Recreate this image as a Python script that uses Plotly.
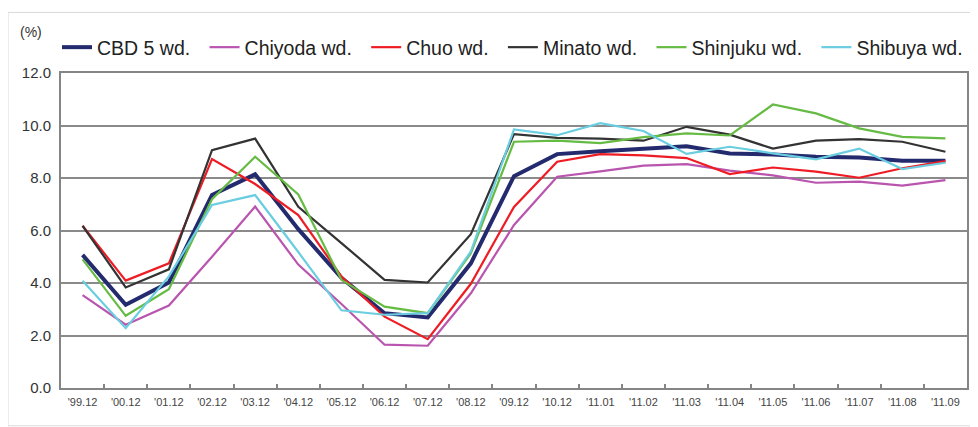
import plotly.graph_objects as go

categories = ["'99.12", "'00.12", "'01.12", "'02.12", "'03.12", "'04.12", "'05.12",
              "'06.12", "'07.12", "'08.12", "'09.12", "'10.12", "'11.01", "'11.02",
              "'11.03", "'11.04", "'11.05", "'11.06", "'11.07", "'11.08", "'11.09"]

cbd5 = [5.07, 3.17, 4.02, 7.35, 8.14, 6.05, 4.20, 2.85, 2.69, 4.75, 8.07, 8.91, 9.02,
        9.12, 9.21, 8.93, 8.90, 8.81, 8.78, 8.66, 8.66]
chiyoda = [3.54, 2.41, 3.14, 5.00, 6.91, 4.70, 3.20, 1.65, 1.61, 3.61, 6.21, 8.05, 8.25,
           8.47, 8.53, 8.28, 8.10, 7.82, 7.86, 7.71, 7.92]
chuo = [6.18, 4.09, 4.75, 8.72, 7.77, 6.59, 4.25, 2.72, 1.86, 3.97, 6.90, 8.62, 8.91,
        8.86, 8.76, 8.15, 8.40, 8.24, 8.01, 8.37, 8.64]
minato = [6.18, 3.83, 4.52, 9.06, 9.50, 6.90, 5.52, 4.12, 4.02, 5.86, 9.67, 9.53, 9.50,
          9.42, 9.95, 9.65, 9.12, 9.42, 9.48, 9.38, 9.00]
shinjuku = [4.90, 2.75, 3.76, 7.19, 8.81, 7.37, 4.12, 3.10, 2.85, 5.13, 9.38, 9.42, 9.33,
            9.56, 9.70, 9.62, 10.80, 10.46, 9.89, 9.57, 9.51]
shibuya = [4.09, 2.28, 4.25, 6.97, 7.35, 5.18, 2.96, 2.79, 2.85, 5.20, 9.85, 9.63, 10.09,
           9.79, 8.92, 9.19, 8.94, 8.71, 9.12, 8.34, 8.58]

series_names = ["CBD 5 wd.", "Chiyoda wd.", "Chuo wd.", "Minato wd.", "Shinjuku wd.", "Shibuya wd."]
y_ticks = [0, 2, 4, 6, 8, 10, 12]
y_tick_labels = ["0.0", "2.0", "4.0", "6.0", "8.0", "10.0", "12.0"]

series = [cbd5, chiyoda, chuo, minato, shinjuku, shibuya]
colors = ["#232a6e", "#b955ae", "#ee1c24", "#333333", "#66bb44", "#6acde0"]
widths = [4, 2.2, 2.2, 2.2, 2.2, 2.2]

fig = go.Figure()
for name, vals, c, w in zip(series_names, series, colors, widths):
    fig.add_trace(go.Scatter(
        x=categories, y=vals, mode="lines", name=name + "\u00a0\u2009",
        line=dict(color=c, width=w),
    ))

FONT = "Liberation Sans, Arial, Helvetica, sans-serif"
fig.update_layout(
    width=970, height=419,
    margin=dict(l=53, r=11, t=65, b=39),
    paper_bgcolor="white", plot_bgcolor="white",
    font=dict(family=FONT, color="#333333"),
    showlegend=True,
    legend=dict(
        orientation="h", x=-0.0044, xanchor="left", y=1.081, yanchor="middle",
        font=dict(size=19.5, color="#222222"), itemwidth=30,
        bgcolor="rgba(0,0,0,0)", borderwidth=0,
    ),
    xaxis=dict(
        type="category", range=[-0.5, 20.5], automargin=False,
        showline=True, linecolor="#858585", linewidth=2, mirror=True,
        showgrid=False, zeroline=False,
        ticks="inside", tickson="boundaries", ticklen=4, tickwidth=1.5, tickcolor="#858585",
        tickfont=dict(size=11, color="#444444"), ticklabelstandoff=3,
    ),
    yaxis=dict(
        range=[0, 12], tickvals=y_ticks, ticktext=y_tick_labels, automargin=False,
        showline=True, linecolor="#858585", linewidth=2, mirror=True,
        showgrid=True, gridcolor="#8a8a8a", gridwidth=2, zeroline=False,
        ticks="", tickfont=dict(size=15, color="#333333"), ticklabelstandoff=5,
    ),
    shapes=[dict(
        type="rect", xref="paper", yref="paper",
        x0=-0.0585, x1=1.03, y0=-0.12, y1=1.1923,
        line=dict(color="#d9d9d9", width=1), fillcolor="rgba(0,0,0,0)", layer="below",
    )],
    annotations=[dict(
        text="(%)", xref="paper", yref="paper", x=-0.0331, y=1.129,
        xanchor="center", yanchor="middle", showarrow=False,
        font=dict(size=14, color="#333333"),
    )],
)

fig.write_html("out.html")
